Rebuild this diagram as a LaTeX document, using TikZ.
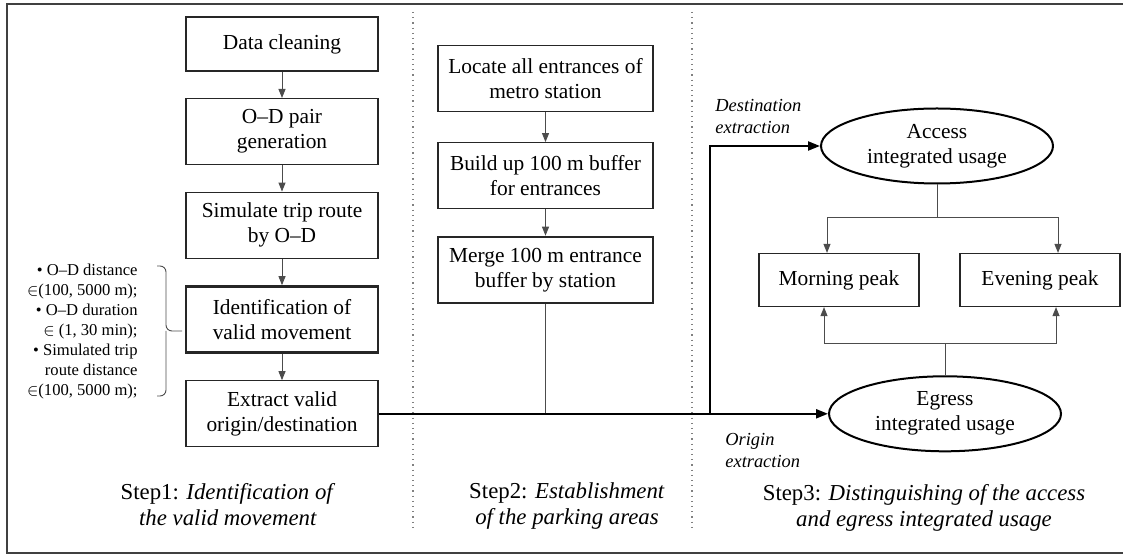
\documentclass[tikz,border=0pt]{standalone}
\usepackage{fontspec}
\setmainfont{Liberation Serif}
\usetikzlibrary{positioning,arrows.meta,shapes.geometric}

\begin{document}
\begin{tikzpicture}[x=0.5pt,y=-0.5pt,
  stepbox/.style={draw=black!85,line width=0.6pt,align=center,inner sep=2pt,
    minimum height=33pt,font=\fontsize{10.7}{12.5}\selectfont},
  keybox/.style={stepbox,line width=1.3pt},
  usage/.style={ellipse,draw,line width=1pt,align=center,inner sep=0pt,
    minimum width=116pt,minimum height=37.5pt,font=\fontsize{10.7}{12.5}\selectfont},
  flow/.style={draw=black!70,line width=0.45pt,-{Triangle[length=4.5pt,width=3.5pt]}},
  link/.style={draw=black!70,line width=0.45pt},
  main/.style={draw=black,line width=1.1pt},
  note/.style={font=\fontsize{8.3}{10}\selectfont,align=right,inner sep=0pt},
  steptitle/.style={font=\fontsize{11.4}{13}\selectfont,align=center,inner sep=0pt},
  tag/.style={font=\itshape\fontsize{9.2}{11}\selectfont,align=left,inner sep=0pt},
  node distance=13.2pt]
 \useasboundingbox (0,0) rectangle (1123,555);
 % frame and column separators
 \draw[black!75,line width=0.8pt] (1123,4) -- (7,4) -- (7,553) -- (1123,553);
 \draw[black!50,dotted,line width=0.6pt] (413,12) -- (413,528);
 \draw[black!50,dotted,line width=0.6pt] (692,12) -- (692,528);

 % step 1
 \node[stepbox,minimum width=96pt,minimum height=27pt] (clean) at (282,44) {Data cleaning};
 \node[stepbox,minimum width=96pt,below=of clean] (pair) {O–D pair\\generation};
 \node[stepbox,minimum width=96pt,below=of pair] (route) {Simulate trip route\\by O–D};
 \node[keybox,minimum width=96pt,below=of route] (valid) {Identification of\\valid movement};
 \node[stepbox,minimum width=96pt,below=of valid] (origin) {Extract valid\\origin/destination};
 \node[note,anchor=east] (criteria) at (138,332) {• O–D distance\\$\in$(100, 5000 m);\\• O–D duration\\$\in$ (1, 30 min);\\• Simulated trip\\route distance\\$\in$(100, 5000 m);};
 \draw[link,rounded corners=3pt] (157,266) -- (166,266) -- (166,331) -- (182,331);
 \draw[link,rounded corners=3pt] (157,396) -- (166,396) -- (166,331);

 % step 2
 \node[stepbox,minimum width=107.5pt] (locate) at (545.5,78.5) {Locate all entrances of\\metro station};
 \node[stepbox,minimum width=107.5pt,below=15pt of locate] (buffer) {Build up 100 m buffer\\for entrances};
 \node[keybox,minimum width=107.5pt,below=of buffer] (merge) {Merge 100 m entrance\\buffer by station};

 % step 3
 \node[usage] (access) at (937,146) {Access\\integrated usage};
 \node[stepbox,minimum width=80pt,minimum height=26.5pt] (morning) at (839,280) {Morning peak};
 \node[stepbox,minimum width=80pt,minimum height=26.5pt] (evening) at (1040,280) {Evening peak};
 \node[usage] (egress) at (origin.east -| 945,0) {Egress\\integrated usage};
 \coordinate (split) at (origin.east -| 710,0);
 \coordinate (accfork) at (937,217);
 \coordinate (egrfork) at (945,343);

 \draw[flow] (clean) -- (pair);
 \draw[flow] (pair) -- (route);
 \draw[flow] (route) -- (valid);
 \draw[flow] (valid) -- (origin);
 \draw[flow] (locate) -- (buffer);
 \draw[flow] (buffer) -- (merge);
 \draw[link] (merge.south) -- (merge.south |- origin.east);
 \draw[main,-{Triangle[length=6pt,width=4.5pt]}] (origin.east) -- (egress.west);
 \draw[main,-{Triangle[length=6pt,width=4.5pt]}] (split) |- (access.west);
 \draw[link] (access.south) -- (accfork);
 \draw[flow] (accfork) -| ([xshift=-6pt]morning.north);
 \draw[flow] (accfork) -| ([xshift=9pt]evening.north);
 \draw[link] (egress.north) -- (egrfork);
 \draw[flow] (egrfork) -| ([xshift=-7.5pt]morning.south);
 \draw[flow] (egrfork) -| ([xshift=8pt]evening.south);

 \node[tag,anchor=west] (destlbl) at (715,117) {Destination\\extraction};
 \node[tag,anchor=west] (origlbl) at (725,451) {Origin\\extraction};
 \node[steptitle] (step1) at (228,505) {Step1: \textit{Identification of}\\\textit{the valid movement}};
 \node[steptitle] (step2) at (567,506) {Step2: \textit{Establishment}\\\textit{of the parking areas}};
 \node[steptitle] (step3) at (924,508) {Step3: \textit{Distinguishing of the access}\\\textit{and egress integrated usage}};
\end{tikzpicture}
\end{document}
